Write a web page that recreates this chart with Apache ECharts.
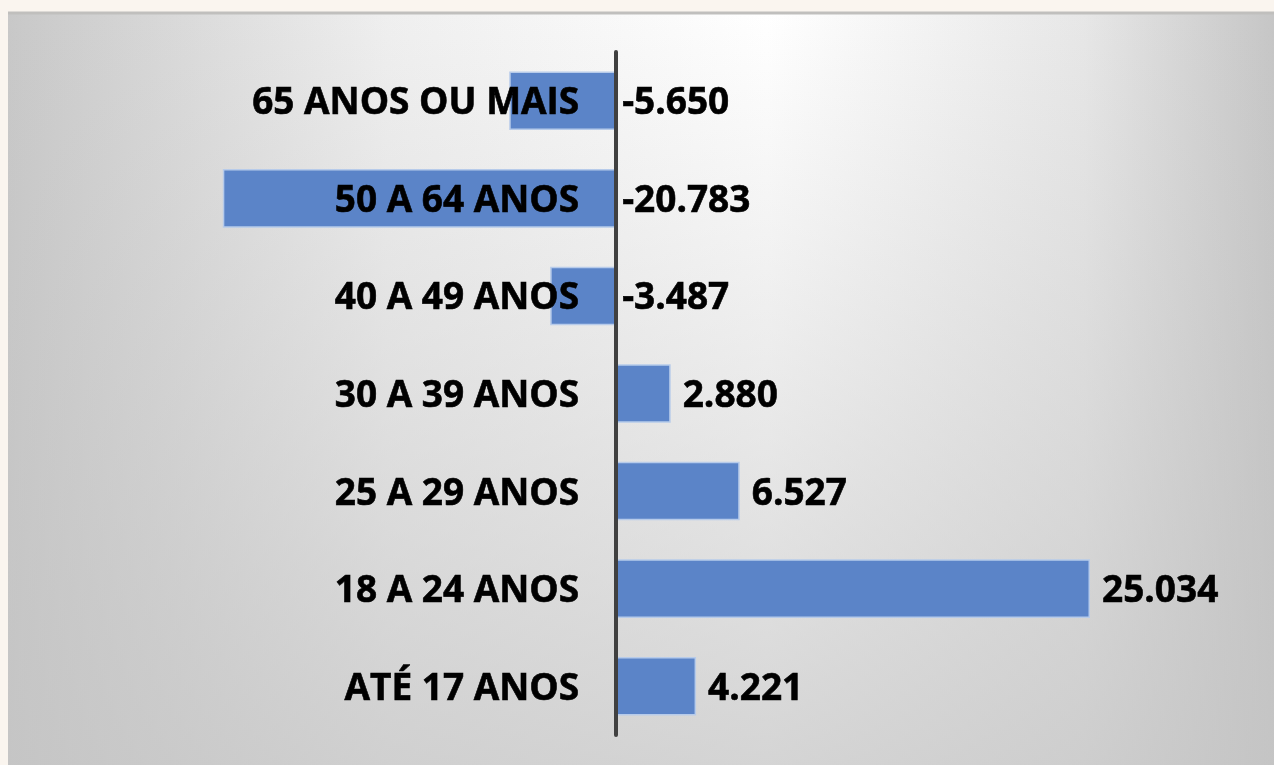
<!DOCTYPE html>
<html>
<head>
<meta charset="utf-8">
<script src="https://cdn.jsdelivr.net/npm/echarts@6/dist/echarts.min.js"></script>
<style>
  html, body { margin: 0; padding: 0; background: #faf5ef; }
  #main { width: 1274px; height: 765px; }
</style>
</head>
<body>
<div id="main"></div>
<script>
// faixas etárias (de cima para baixo)
const categories = ['65 ANOS OU MAIS', '50 A 64 ANOS', '40 A 49 ANOS', '30 A 39 ANOS', '25 A 29 ANOS', '18 A 24 ANOS', 'ATÉ 17 ANOS']
// saldo por faixa
const values = [-5650, -20783, -3487, 2880, 6527, 25034, 4221]

const FONT = '"Open Sans", "Noto Sans", sans-serif'

// número no formato 25.034
function fmt(v) {
  const s = Math.abs(v).toString().replace(/\B(?=(\d{3})+(?!\d))/g, '.')
  return (v < 0 ? '-' : '') + s
}

const chart = echarts.init(document.getElementById('main'))

// rótulos de valor sempre à direita do eixo
const valueLabels = values.map((v, i) => ({
  value: [Math.max(v, 0), i],
  label: { distance: v < 0 ? 6 : 12 }
}))
// nomes das faixas colados à esquerda do eixo
const nameLabels = categories.map((c, i) => [0, i])

const textStyle = {
  color: '#000',
  fontSize: 37,
  fontWeight: 'bold',
  fontFamily: FONT,
  textBorderColor: '#000',
  textBorderWidth: 0.6,
  offset: [0, 3]
}

chart.setOption({
  animation: false,
  graphic: [
    {
      type: 'rect', z: -100, silent: true,
      shape: { x: 8, y: 13, width: 1280, height: 760 },
      style: {
        fill: {
          type: 'linear', x: 8, y: 0, x2: 1274, y2: 0, global: true,
          colorStops: [
            { offset: 0, color: '#c8c8c8' },
            { offset: 0.3, color: '#efefef' },
            { offset: 0.6, color: '#ffffff' },
            { offset: 0.85, color: '#e7e7e7' },
            { offset: 1, color: '#c6c6c6' }
          ]
        }
      }
    },
    {
      type: 'rect', z: -99, silent: true,
      shape: { x: 8, y: 13, width: 1280, height: 760 },
      style: {
        fill: {
          type: 'linear', x: 0, y: 13, x2: 0, y2: 765, global: true,
          colorStops: [
            { offset: 0, color: 'rgba(196,196,196,0)' },
            { offset: 0.5, color: 'rgba(196,196,196,0.35)' },
            { offset: 1, color: 'rgba(196,196,196,0.72)' }
          ]
        }
      }
    },
    {
      type: 'line', z: -98, silent: true,
      shape: { x1: 8, y1: 13, x2: 1274, y2: 13 },
      style: { stroke: '#c0bfbd', lineWidth: 3 }
    }
  ],
  grid: { left: 143, right: 90, top: 52, bottom: 30, outerBoundsMode: 'none', containLabel: false },
  xAxis: {
    type: 'value',
    min: -25000,
    max: 30000,
    show: false
  },
  yAxis: {
    type: 'category',
    inverse: true,
    data: categories,
    z: 10,
    axisLine: { onZero: true, lineStyle: { color: '#404040', width: 4 } },
    axisTick: { show: false },
    splitLine: { show: false },
    axisLabel: { show: false }
  },
  series: [
    {
      type: 'bar',
      data: values,
      barCategoryGap: '40%',
      itemStyle: { color: '#5b84c8', borderColor: '#b7cbea', borderWidth: 1.5 }
    },
    {
      type: 'scatter',
      data: nameLabels,
      symbolSize: 0,
      silent: true,
      z: 5,
      itemStyle: { opacity: 1 },
      label: Object.assign({
        show: true,
        position: 'left',
        distance: 37,
        formatter: p => categories[p.dataIndex]
      }, textStyle)
    },
    {
      type: 'scatter',
      data: valueLabels,
      symbolSize: 0,
      silent: true,
      z: 5,
      itemStyle: { opacity: 1 },
      label: Object.assign({
        show: true,
        position: 'right',
        formatter: p => fmt(values[p.dataIndex])
      }, textStyle)
    }
  ]
})
</script>
</body>
</html>
